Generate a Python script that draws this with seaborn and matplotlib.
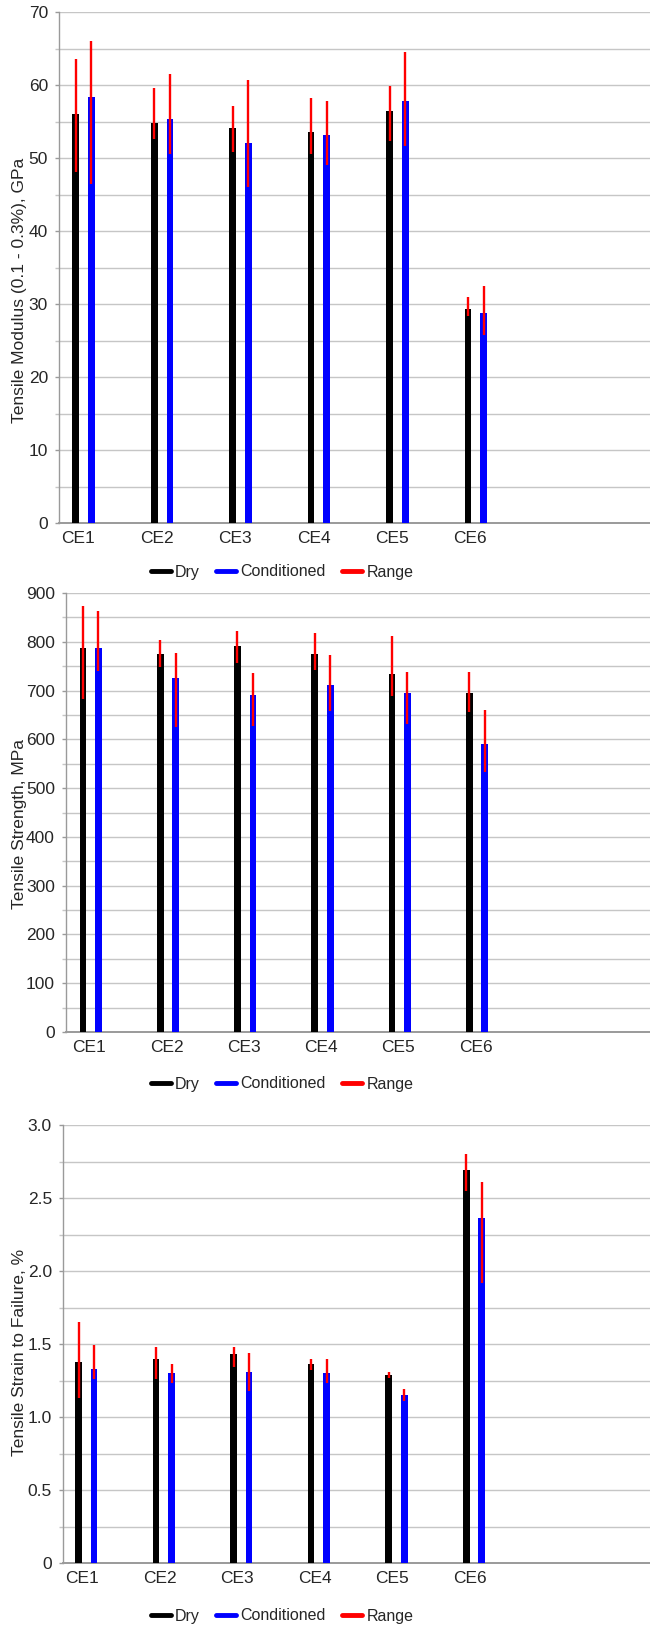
import numpy as np
import pandas as pd
import matplotlib
matplotlib.use("Agg")
import matplotlib.pyplot as plt
import matplotlib.transforms as mtransforms
import seaborn as sns
from matplotlib.lines import Line2D
from matplotlib.ticker import MultipleLocator, FuncFormatter

# ---------------- data ----------------
categories = ["CE1", "CE2", "CE3", "CE4", "CE5", "CE6"]
series_names = ["Dry", "Conditioned"]

modulus_dry = [56.0, 54.8, 54.1, 53.6, 56.5, 29.3]
modulus_dry_lo = [48.1, 52.6, 50.8, 50.5, 52.3, 28.3]
modulus_dry_hi = [63.6, 59.6, 57.1, 58.2, 59.8, 30.9]
modulus_cond = [58.3, 55.3, 52.1, 53.1, 57.8, 28.8]
modulus_cond_lo = [46.4, 50.5, 46.0, 49.0, 51.7, 25.8]
modulus_cond_hi = [66.0, 61.5, 60.7, 57.8, 64.5, 32.5]

strength_dry = [787, 774, 792, 774, 734, 695]
strength_dry_lo = [682, 749, 757, 743, 688, 657]
strength_dry_hi = [873, 804, 822, 818, 811, 739]
strength_cond = [788, 726, 691, 712, 695, 590]
strength_cond_lo = [741, 626, 628, 659, 631, 534]
strength_cond_hi = [863, 778, 735, 772, 739, 660]

strain_dry = [1.38, 1.40, 1.43, 1.36, 1.29, 2.69]
strain_dry_lo = [1.13, 1.26, 1.34, 1.32, 1.27, 2.55]
strain_dry_hi = [1.65, 1.48, 1.48, 1.40, 1.31, 2.80]
strain_cond = [1.33, 1.30, 1.31, 1.30, 1.15, 2.36]
strain_cond_lo = [1.26, 1.23, 1.18, 1.23, 1.11, 1.92]
strain_cond_hi = [1.49, 1.36, 1.44, 1.40, 1.19, 2.61]

ylabels = ["Tensile Modulus (0.1 - 0.3%), GPa",
           "Tensile Strength, MPa",
           "Tensile Strain to Failure, %"]
legend_labels = ["Dry", "Conditioned", "Range"]

# ---------------- style ----------------
sns.set_theme(style="white")
plt.rcParams["font.family"] = ["Liberation Sans", "DejaVu Sans"]
FS_TICK = 12.5
FS_LAB = 12.5
FS_LEG = 11.5
GRID = "#c6c6c6"
AXC = "#9a9a9a"
colors = {"Dry": "#000000", "Conditioned": "#0000ff"}
RED = "#ff0000"

fig = plt.figure(figsize=(6.5, 16.29), dpi=100)

panels = [
    dict(dry=modulus_dry, dlo=modulus_dry_lo, dhi=modulus_dry_hi,
         cond=modulus_cond, clo=modulus_cond_lo, chi=modulus_cond_hi,
         rect=[59/650, 1-523/1629, 591/650, 511/1629], ylim=(0, 70),
         major=10, minor=5, xlim=(-0.314, 7.22), legy=1-572/1629,
         laby=1-290/1629, lshift=-5.5, fmt=lambda v, p: f"{v:.0f}"),
    dict(dry=strength_dry, dlo=strength_dry_lo, dhi=strength_dry_hi,
         cond=strength_cond, clo=strength_cond_lo, chi=strength_cond_hi,
         rect=[66/650, 1-1032/1629, 584/650, 439/1629], ylim=(0, 900),
         major=100, minor=50, xlim=(-0.32, 7.24), legy=1-1084/1629,
         laby=1-824/1629, lshift=-1.3, fmt=lambda v, p: f"{v:.0f}"),
    dict(dry=strain_dry, dlo=strain_dry_lo, dhi=strain_dry_hi,
         cond=strain_cond, clo=strain_cond_lo, chi=strain_cond_hi,
         rect=[63/650, 1-1563/1629, 587/650, 438/1629], ylim=(0, 3.0),
         major=0.5, minor=0.25, xlim=(-0.30, 7.27), legy=1-1616/1629,
         laby=1-1352/1629, lshift=-4.0,
         fmt=lambda v, p: "0" if abs(v) < 1e-9 else f"{v:.1f}"),
]

WIDTH = 0.40
GAP = 0.57

for k, p in enumerate(panels):
    ax = fig.add_axes(p["rect"])
    df = pd.DataFrame({
        "specimen": categories * 2,
        "condition": ["Dry"] * 6 + ["Conditioned"] * 6,
        "value": list(p["dry"]) + list(p["cond"]),
    })
    sns.barplot(data=df, x="specimen", y="value", hue="condition",
                hue_order=series_names, order=categories, palette=colors,
                width=WIDTH, gap=GAP, errorbar=None, legend=False,
                saturation=1, ax=ax, zorder=3, linewidth=0, edgecolor="none")
    xs = np.arange(len(categories))
    off = WIDTH / 4
    ax.vlines(xs - off, p["dlo"], p["dhi"], color=RED, lw=1.7, zorder=4)
    ax.vlines(xs + off, p["clo"], p["chi"], color=RED, lw=1.7, zorder=4)

    ax.set_xlim(*p["xlim"])
    ax.set_ylim(*p["ylim"])
    ax.yaxis.set_major_locator(MultipleLocator(p["major"]))
    ax.yaxis.set_minor_locator(MultipleLocator(p["minor"]))
    ax.yaxis.set_major_formatter(FuncFormatter(p["fmt"]))
    ax.yaxis.grid(True, which="both", color=GRID, lw=1.0, zorder=0)
    ax.xaxis.grid(False)
    ax.set_axisbelow(True)
    for s in ["top", "right"]:
        ax.spines[s].set_visible(False)
    ax.spines["left"].set_color(AXC)
    ax.spines["bottom"].set_color(AXC)
    ax.spines["left"].set_linewidth(1.0)
    ax.spines["bottom"].set_linewidth(1.4)
    ax.tick_params(axis="y", which="major", length=3, width=1, color=AXC,
                   labelsize=FS_TICK, pad=5, left=True)
    ax.tick_params(axis="y", which="minor", length=3, width=1, color=GRID,
                   left=True)
    ax.tick_params(axis="x", length=0, labelsize=FS_TICK, pad=6)
    shift = mtransforms.ScaledTranslation(p["lshift"] / 100, 0,
                                          fig.dpi_scale_trans)
    for lab in ax.get_xticklabels():
        lab.set_transform(lab.get_transform() + shift)
    ax.set_xlabel("")
    ax.set_ylabel(ylabels[k], fontsize=FS_LAB)
    ax.yaxis.set_label_coords(27/650, p["laby"], transform=fig.transFigure)

    handles = [Line2D([], [], color=colors["Dry"], lw=3.5),
               Line2D([], [], color=colors["Conditioned"], lw=3.5),
               Line2D([], [], color=RED, lw=3.5)]
    fig.legend(handles, legend_labels, ncol=3,
               loc="center", bbox_to_anchor=(282/650, p["legy"]),
               frameon=False, fontsize=FS_LEG, handlelength=1.25,
               handletextpad=0.25, columnspacing=1.05, borderpad=0)

fig.savefig("out.png", dpi=100)
